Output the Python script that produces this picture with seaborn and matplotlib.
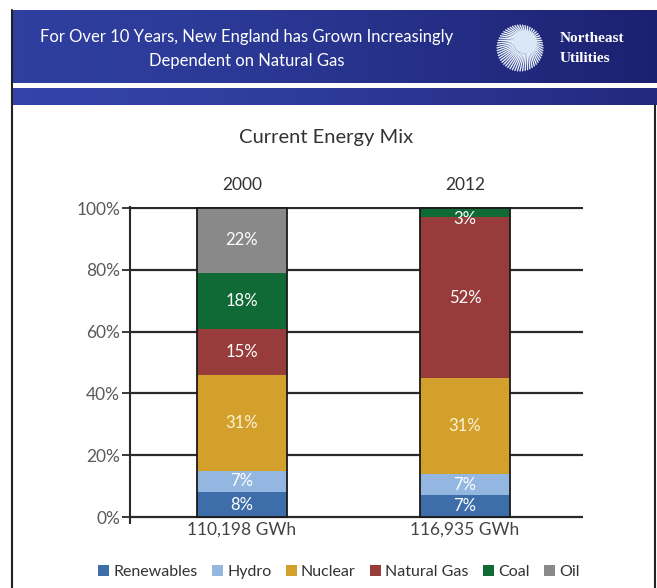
import numpy as np
import pandas as pd
import matplotlib
matplotlib.use("Agg")
import matplotlib.pyplot as plt
import seaborn as sns
from matplotlib.patches import Patch, Circle
from matplotlib.colors import LinearSegmentedColormap

# ---------------- data ----------------
years = ["2000", "2012"]
totals = ["110,198 GWh", "116,935 GWh"]
sources = ["Renewables", "Hydro", "Nuclear", "Natural Gas", "Coal", "Oil"]
share_2000 = [8, 7, 31, 15, 18, 22]
share_2012 = [7, 7, 31, 52, 3, 0]
colors = ["#3e6ea9", "#93b7e0", "#d3a02b", "#983b3b", "#0f6a36", "#898989"]
yticks = [0, 20, 40, 60, 80, 100]
ytick_labels = ["0%", "20%", "40%", "60%", "80%", "100%"]

rows = []
for yr, shares in zip(years, [share_2000, share_2012]):
    cum = 0.0
    for src, v in zip(sources, shares):
        rows.append({"year": yr, "source": src, "value": v,
                     "bottom": min(cum, 100.0), "top": min(cum + v, 100.0)})
        cum += v
df = pd.DataFrame(rows)

sns.set_theme(style="white")
plt.rcParams["font.family"] = ["Lato", "DejaVu Sans"]

W, H = 657, 588
fig = plt.figure(figsize=(W / 100, H / 100), dpi=100)

# ---------------- background / header ----------------
bg = fig.add_axes([0, 0, 1, 1], zorder=0)
bg.set_xlim(0, W)
bg.set_ylim(H, 0)
bg.axis("off")

cm1 = LinearSegmentedColormap.from_list("hdr", ["#1c2070", "#2f3f9f"])
xg = np.linspace(0, 1, 500)
g1 = 1 - xg ** 1.5
bg.imshow(g1[None, :], extent=(12, W, 83, 10), aspect="auto", cmap=cm1,
          vmin=0, vmax=1, zorder=1)
cm2 = LinearSegmentedColormap.from_list("hdr2", ["#22287c", "#3443a8"])
bg.imshow(g1[None, :], extent=(12, W, 105, 88), aspect="auto", cmap=cm2,
          vmin=0, vmax=1, zorder=1)
bg.plot([12, 12], [10, H], color="#222222", lw=1.5, zorder=3)
bg.plot([655, 655], [105, H], color="#222222", lw=1.5, zorder=3)

bg.text(247, 37, "For Over 10 Years, New England has Grown Increasingly",
        ha="center", va="center", color="white", fontsize=12, zorder=4)
bg.text(247, 61, "Dependent on Natural Gas",
        ha="center", va="center", color="white", fontsize=12, zorder=4)

# logo sunburst
cx, cy, r = 520, 48, 23
fx, fy = 527, 40
for a in np.linspace(0, 2 * np.pi, 56, endpoint=False):
    px, py = cx + r * np.cos(a), cy + r * np.sin(a)
    sx, sy = fx + 0.45 * (px - fx), fy + 0.45 * (py - fy)
    bg.plot([sx, px], [sy, py], color="#e6f0fb", lw=1.0, zorder=4)
bg.add_patch(Circle((fx - 2, fy + 2), 11, color="#d8e8f7", zorder=5))
bg.text(560, 39, "Northeast", ha="left", va="center", color="white",
        fontsize=11, fontweight="bold", family=["Liberation Serif", "DejaVu Serif"], zorder=4)
bg.text(560, 58, "Utilities", ha="left", va="center", color="white",
        fontsize=11, fontweight="bold", family=["Liberation Serif", "DejaVu Serif"], zorder=4)

bg.text(326, 137, "Current Energy Mix", ha="center", va="center",
        color="#333333", fontsize=14.5, zorder=4)

# ---------------- chart ----------------
y_bot_px, y_top_px = 523.2, 206.5
ax = fig.add_axes([130 / W, (H - y_bot_px) / H, (583 - 130) / W,
                   (y_bot_px - y_top_px) / H], zorder=2)
ax.set_facecolor("none")

for src, col in reversed(list(zip(sources, colors))):
    sub = df[df["source"] == src]
    sns.barplot(data=sub, x="year", y="top", order=years, color=col,
                saturation=1, width=0.4, linewidth=0, ax=ax, zorder=3)
outline = df.groupby("year", as_index=False)["top"].max()
sns.barplot(data=outline, x="year", y="top", order=years, fill=False,
            color="#1a1a1a", width=0.4, linewidth=1.3, ax=ax, zorder=4)

for i, yr in enumerate(years):
    sub = df[df["year"] == yr]
    for _, row in sub.iterrows():
        if row["value"] <= 0:
            continue
        ymid = (row["bottom"] + row["top"]) / 2
        if row["source"] == "Coal" and row["value"] < 5:
            ymid = row["bottom"] - 0.5
        tc = "#fbf3d8" if row["source"] == "Nuclear" else "white"
        ax.text(i, ymid, f"{int(row['value'])}%", ha="center", va="center",
                color=tc, fontsize=12, zorder=5)
    ax.text(i, 107.4, yr, ha="center", va="center", color="#333333",
            fontsize=12.5, clip_on=False)

ax.set_ylim(-2, 100.5)
ax.set_xlim(-0.502, 1.529)
ax.set_yticks(yticks)
ax.set_yticklabels(ytick_labels)
ax.set_xticks([0, 1])
ax.set_xticklabels(totals)
ax.set_xlabel("")
ax.set_ylabel("")
ax.yaxis.grid(True, color="#2a2a2a", lw=1.6)
ax.xaxis.grid(False)
ax.set_axisbelow(True)
for s in ["top", "right", "bottom"]:
    ax.spines[s].set_visible(False)
ax.spines["left"].set_color("#2a2a2a")
ax.spines["left"].set_linewidth(1.5)
ax.tick_params(axis="y", left=True, length=6, width=1.3, color="#2a2a2a",
               pad=1, labelsize=12.5, labelcolor="#5a5a5a")
ax.tick_params(axis="x", bottom=False, length=0, pad=-1, labelsize=12.5,
               labelcolor="#444444")

handles = [Patch(facecolor=c, edgecolor="none") for c in colors]
fig.legend(handles, sources, loc="center", bbox_to_anchor=(339 / W, (H - 572) / H),
           ncol=6, frameon=False, handlelength=0.7, handleheight=0.7,
           handletextpad=0.25, columnspacing=0.9, fontsize=11.5,
           labelcolor="#333333", borderaxespad=0)

fig.savefig("out.png", dpi=100)
